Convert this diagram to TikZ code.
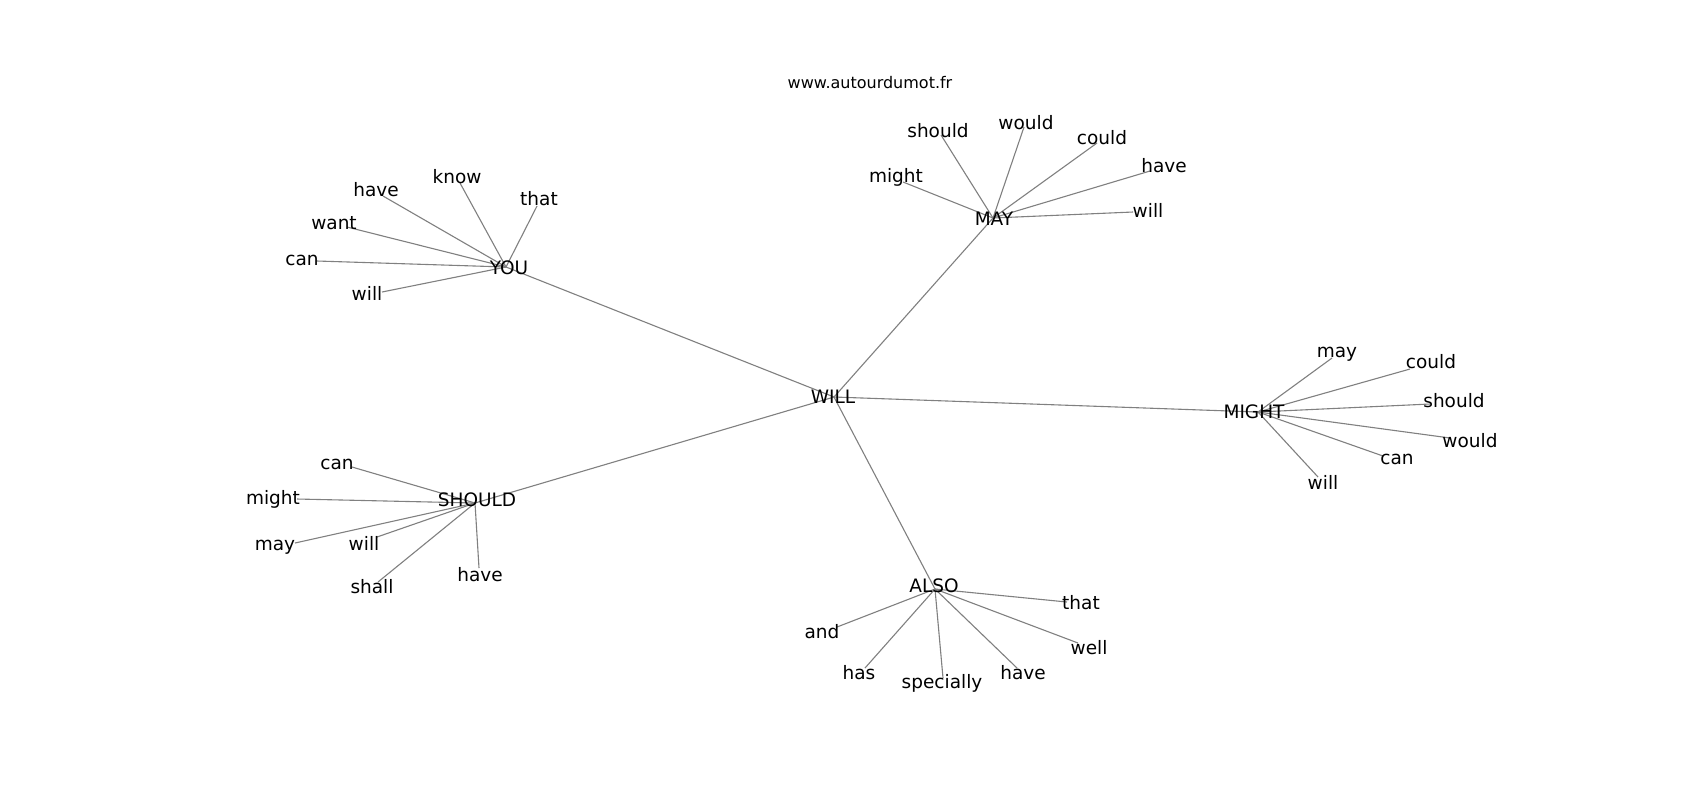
\documentclass[tikz,border=0pt]{standalone}
\usepackage{fontspec}
\setmainfont{DejaVu Sans}
\begin{document}
\begin{tikzpicture}[x=0.5pt,y=-0.5pt,
  lbl/.style={inner sep=0pt,font=\fontsize{9.25pt}{11pt}\selectfont,text=black},
  ttl/.style={inner sep=0pt,font=\fontsize{8pt}{10pt}\selectfont,text=black},
  edge/.style={draw={rgb,255:red,128;green,128;blue,128},line width=0.55pt}]
\useasboundingbox[fill=white] (0,0) rectangle (1700,800);
\node[ttl] (title) at (870,83) {www.autourdumot.fr};
% hubs
\coordinate (will) at (834,397);
\coordinate (you) at (506,267);
\coordinate (may) at (993,218);
\coordinate (might) at (1258,412);
\coordinate (should) at (475,503);
\coordinate (also) at (935,589);
% leaf endpoints
\coordinate (y1) at (317,261);
\coordinate (y2) at (382,292);
\coordinate (y3) at (347,227);
\coordinate (y4) at (383,196);
\coordinate (y5) at (460,183);
\coordinate (y6) at (537,206);
\coordinate (m1) at (903,182);
\coordinate (m2) at (941,135);
\coordinate (m3) at (1024,127);
\coordinate (m4) at (1097,143);
\coordinate (m5) at (1150,171);
\coordinate (m6) at (1133,212);
\coordinate (g1) at (1332,358);
\coordinate (g2) at (1410,369);
\coordinate (g3) at (1430,404);
\coordinate (g4) at (1450,438);
\coordinate (g5) at (1383,456);
\coordinate (g6) at (1318,477);
\coordinate (s1) at (352,467);
\coordinate (s2) at (297,499);
\coordinate (s3) at (295,543);
\coordinate (s4) at (377,537);
\coordinate (s5) at (378,582);
\coordinate (s6) at (479,568);
\coordinate (a1) at (837,627);
\coordinate (a2) at (865,668);
\coordinate (a3) at (943,678);
\coordinate (a4) at (1017,668);
\coordinate (a5) at (1078,643);
\coordinate (a6) at (1067,602);
% edges
\draw[edge] (will) -- (you);
\draw[edge] (will) -- (may);
\draw[edge] (will) -- (might);
\draw[edge] (will) -- (should);
\draw[edge] (will) -- (also);
\foreach \l in {y1,y2,y3,y4,y5,y6} \draw[edge] (you) -- (\l);
\foreach \l in {m1,m2,m3,m4,m5,m6} \draw[edge] (may) -- (\l);
\foreach \l in {g1,g2,g3,g4,g5,g6} \draw[edge] (might) -- (\l);
\foreach \l in {s1,s2,s3,s4,s5,s6} \draw[edge] (should) -- (\l);
\foreach \l in {a1,a2,a3,a4,a5,a6} \draw[edge] (also) -- (\l);
% labels
\node[lbl] (willt) at (833,397) {WILL};
\node[lbl] (yout) at (509,268) {YOU};
\node[lbl] (mayt) at (994,219) {MAY};
\node[lbl] (mightt) at (1254,412) {MIGHT};
\node[lbl] (shouldt) at (477,500) {SHOULD};
\node[lbl] (alsot) at (934,586) {ALSO};
\node[lbl] (y1t) at (302,260) {can};
\node[lbl] (y2t) at (367,293) {will};
\node[lbl] (y3t) at (334,223) {want};
\node[lbl] (y4t) at (376,190) {have};
\node[lbl] (y5t) at (457,177) {know};
\node[lbl] (y6t) at (539,199) {that};
\node[lbl] (m1t) at (896,177) {might};
\node[lbl] (m2t) at (938,131) {should};
\node[lbl] (m3t) at (1026,123) {would};
\node[lbl] (m4t) at (1102,138) {could};
\node[lbl] (m5t) at (1164,166) {have};
\node[lbl] (m6t) at (1148,210) {will};
\node[lbl] (g1t) at (1337,354) {may};
\node[lbl] (g2t) at (1431,362) {could};
\node[lbl] (g3t) at (1454,401) {should};
\node[lbl] (g4t) at (1470,441) {would};
\node[lbl] (g5t) at (1397,459) {can};
\node[lbl] (g6t) at (1323,482) {will};
\node[lbl] (s1t) at (337,464) {can};
\node[lbl] (s2t) at (273,499) {might};
\node[lbl] (s3t) at (275,547) {may};
\node[lbl] (s4t) at (364,543) {will};
\node[lbl] (s5t) at (372,587) {shall};
\node[lbl] (s6t) at (480,575) {have};
\node[lbl] (a1t) at (822,632) {and};
\node[lbl] (a2t) at (859,673) {has};
\node[lbl] (a3t) at (942,683) {specially};
\node[lbl] (a4t) at (1023,673) {have};
\node[lbl] (a5t) at (1089,648) {well};
\node[lbl] (a6t) at (1081,603) {that};
\end{tikzpicture}
\end{document}
